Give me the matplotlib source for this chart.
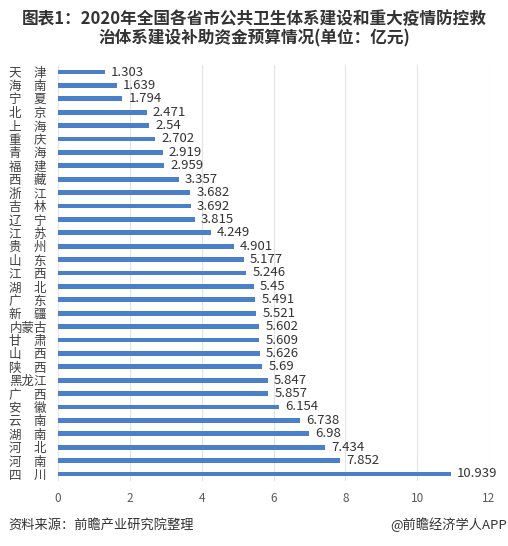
import matplotlib
matplotlib.use("Agg")
import matplotlib.pyplot as plt

plt.rcParams['font.family'] = ['Noto Sans CJK SC', 'DejaVu Sans']

provinces = ["天津", "海南", "宁夏", "北京", "上海", "重庆", "青海", "福建", "西藏", "浙江",
             "吉林", "辽宁", "江苏", "贵州", "山东", "江西", "湖北", "广东", "新疆", "内蒙古",
             "甘肃", "山西", "陕西", "黑龙江", "广西", "安徽", "云南", "湖南", "河北", "河南", "四川"]
values = [1.303, 1.639, 1.794, 2.471, 2.54, 2.702, 2.919, 2.959, 3.357, 3.682,
          3.692, 3.815, 4.249, 4.901, 5.177, 5.246, 5.45, 5.491, 5.521, 5.602,
          5.609, 5.626, 5.69, 5.847, 5.857, 6.154, 6.738, 6.98, 7.434, 7.852, 10.939]
xticks = [0, 2, 4, 6, 8, 10, 12]

fig = plt.figure(figsize=(5.08, 5.46), dpi=100)
n = len(provinces)
spacing = (474 - 72) / (n - 1)
top_px = 72 - spacing / 2
bot_px = 474 + spacing / 2
ax = fig.add_axes([58 / 508, 1 - bot_px / 546, (489 - 58) / 508, (bot_px - top_px) / 546])

ypos = list(range(n))
ax.barh(ypos, values, height=0.36, color="#4a7fc9", zorder=3)
ax.set_ylim(n - 0.5, -0.5)
ax.set_xlim(0, 12)
ax.set_xticks(xticks)
ax.set_xticklabels([str(t) for t in xticks], fontsize=8.5, color="#595959")
ax.tick_params(axis='x', length=0, pad=8)
ax.tick_params(axis='y', length=0, pad=8)
ax.grid(axis='x', color="#e3e3e3", linewidth=0.8, zorder=0)
for s in ax.spines.values():
    s.set_visible(False)

labels = [p if len(p) == 3 else p[0] + "\u3000" + p[1] for p in provinces]
ax.set_yticks(ypos)
ax.set_yticklabels(labels, fontsize=9, color="#404040")

for y, v in zip(ypos, values):
    ax.text(v + 0.17, y, f"{v:g}", va='center', ha='left', fontsize=9.5, color="#333333", zorder=4)

fig.text(0.5, 1 - 19 / 546, "图表1：2020年全国各省市公共卫生体系建设和重大疫情防控救",
         ha='center', va='center', fontsize=12, fontweight='bold', color="#333333")
fig.text(0.5, 1 - 38 / 546, "治体系建设补助资金预算情况(单位：亿元)",
         ha='center', va='center', fontsize=12, fontweight='bold', color="#333333")
fig.text(8 / 508, 1 - 525 / 546, "资料来源：前瞻产业研究院整理", ha='left', va='center',
         fontsize=9.5, color="#333333")
fig.text(507 / 508, 1 - 525 / 546, "@前瞻经济学人APP", ha='right', va='center',
         fontsize=9.5, color="#333333")

fig.savefig("out.png", dpi=100)
